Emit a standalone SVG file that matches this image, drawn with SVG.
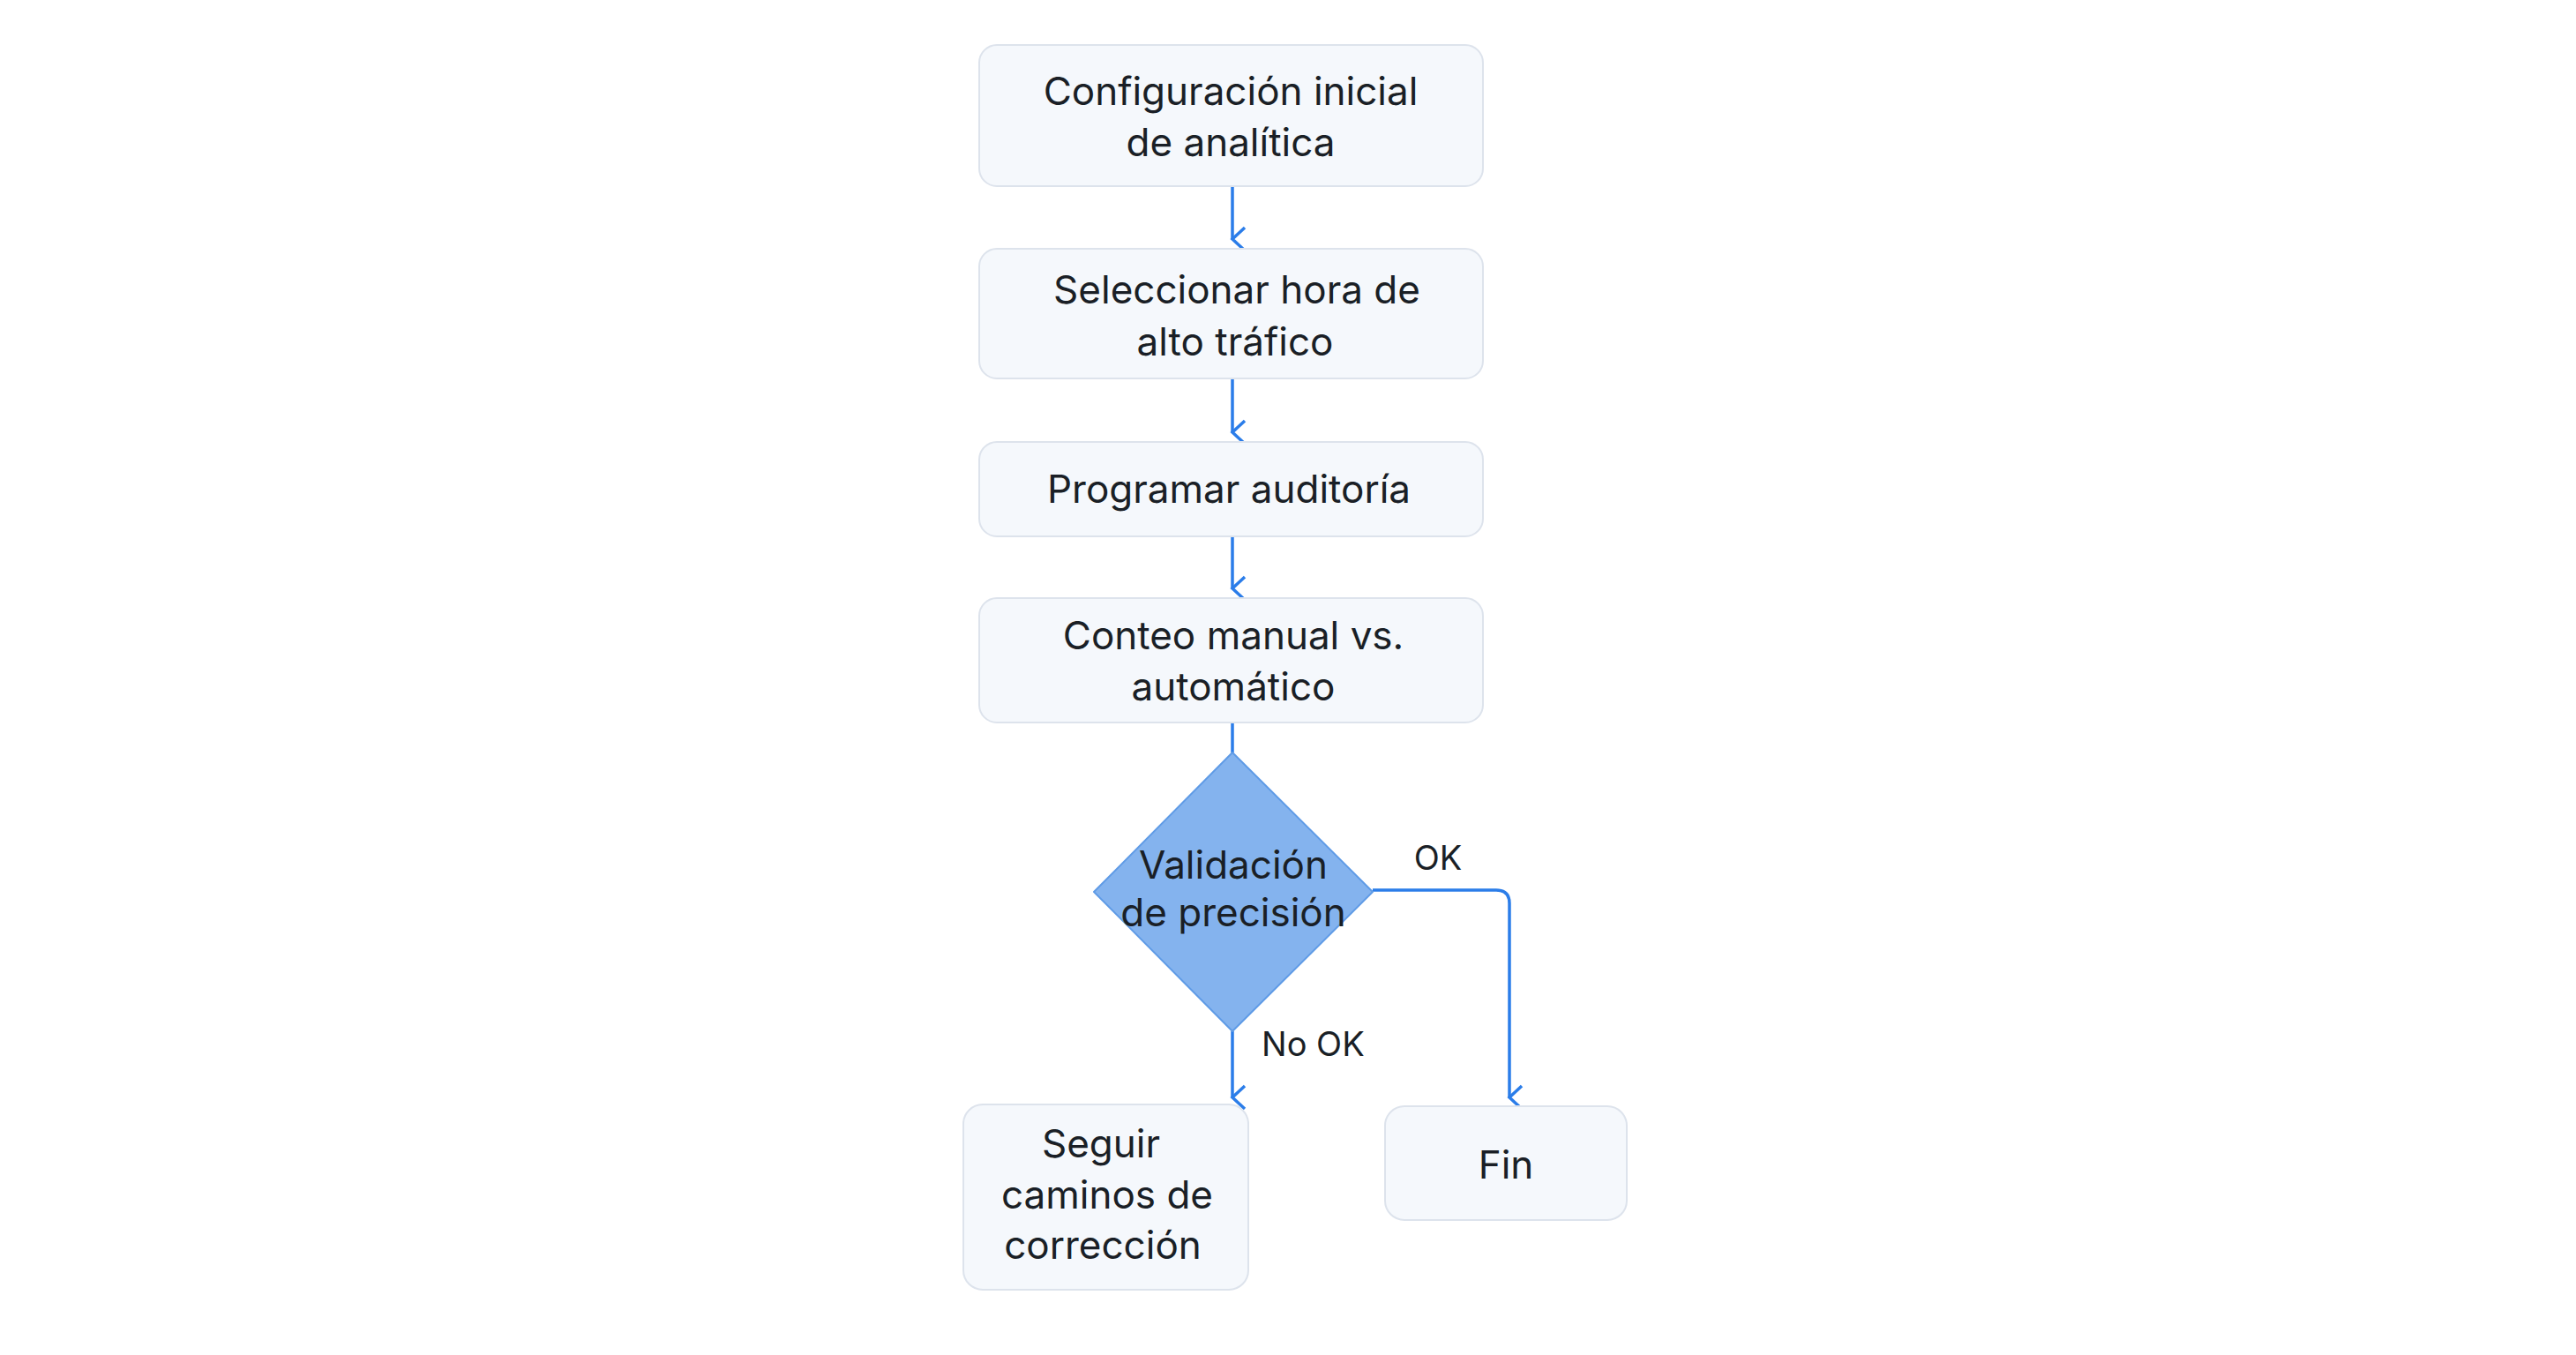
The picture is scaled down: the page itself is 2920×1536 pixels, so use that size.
<svg xmlns="http://www.w3.org/2000/svg" width="2920" height="1536" viewBox="0 0 2920 1536">
<defs>
<marker id="ah" markerWidth="30" markerHeight="20" refX="15" refY="17" orient="auto-start-reverse" markerUnits="userSpaceOnUse" viewBox="0 0 30 20"><path d="M2,3 L15,17 L28,3" fill="none" stroke="#2b7de9" stroke-width="3.5"/></marker>
<style>
.box{fill:#f5f8fc;stroke:#dde3ec;stroke-width:2}
.t{font-family:Inter,"Noto Sans",sans-serif;font-size:44px;fill:#1a1f26;text-anchor:middle}
.l{font-family:Inter,"Noto Sans",sans-serif;font-size:38px;fill:#1a1f26}
.c{fill:none;stroke:#2b7de9;stroke-width:3.5;marker-end:url(#ah)}
</style>
</defs>
<rect width="2920" height="1536" fill="#fff"/>
<g id="connectors">
<path class="c" d="M1397,211 V271"/>
<path class="c" d="M1397,429 V490"/>
<path class="c" d="M1397,608 V667"/>
<path d="M1397,819 V853" fill="none" stroke="#2b7de9" stroke-width="3.5"/>
<path class="c" d="M1397,1169 V1244"/>
<path class="c" d="M1556,1009 H1696 Q1711,1009 1711,1024 V1244"/>
<text class="l" x="1630" y="986" text-anchor="middle">OK</text>
<text class="l" x="1430" y="1197">No OK</text>
</g>
<g id="n1"><rect class="box" x="1110" y="51" width="571" height="160" rx="20"/><text class="t" x="1395" y="119">Configuración inicial</text><text class="t" x="1395" y="177">de analítica</text></g>
<g id="n2"><rect class="box" x="1110" y="282" width="571" height="147" rx="20"/><text class="t" x="1402" y="344">Seleccionar hora de</text><text class="t" x="1400" y="403">alto tráfico</text></g>
<g id="n3"><rect class="box" x="1110" y="501" width="571" height="107" rx="20"/><text class="t" x="1393" y="570">Programar auditoría</text></g>
<g id="n4"><rect class="box" x="1110" y="678" width="571" height="141" rx="20"/><text class="t" x="1398" y="736">Conteo manual vs.</text><text class="t" x="1398" y="794">automático</text></g>
<g id="n5"><path d="M1397,853 L1556,1011 L1397,1169 L1240,1011 Z" fill="#84b3ee" stroke="#5f9be6" stroke-width="2" stroke-linejoin="round"/><text class="t" x="1398" y="996" style="font-stretch:condensed">Validación</text><text class="t" x="1398" y="1050">de precisión</text></g>
<g id="n6"><rect class="box" x="1092" y="1252" width="323" height="210" rx="22"/><text class="t" x="1248" y="1312">Seguir</text><text class="t" x="1255" y="1370">caminos de</text><text class="t" x="1250" y="1427">corrección</text></g>
<g id="n7"><rect class="box" x="1570" y="1254" width="274" height="129" rx="22"/><text class="t" x="1707" y="1336">Fin</text></g>
</svg>
